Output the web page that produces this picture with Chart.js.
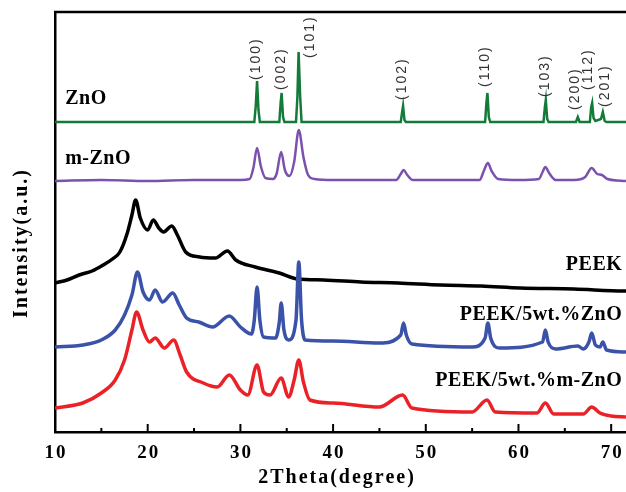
<!DOCTYPE html>
<html>
<head>
    <title>XRD patterns</title>
    <script src="https://cdn.jsdelivr.net/npm/chart.js"></script>
    <style>
        html, body { margin: 0; padding: 0; background: #fff; }
    </style>
</head>
<body>
    <canvas id="xrdChart" width="626" height="492"></canvas>

    <script>
        // 2theta / intensity (a.u., curves already stacked)
        var znoPts = [
            [10,310],[31.5,310],[31.65,325],[31.8,351],[31.95,322],[32.1,310],
            [34.2,310],[34.35,330],[34.45,339],[34.6,315],[34.75,310],
            [36.0,310],[36.15,335],[36.28,380],[36.45,335],[36.6,310],
            [47.3,310],[47.45,320],[47.55,326],[47.7,312],[47.85,310],
            [56.4,310],[56.55,330],[56.65,339],[56.8,315],[56.95,310],
            [62.7,310],[62.85,325],[62.95,332],[63.1,313],[63.25,310],
            [66.2,310],[66.4,315],[66.6,310],
            [67.7,310],[67.85,325],[67.95,329],[68.1,314],[68.3,311],
            [68.9,313],[69.1,320],[69.3,311],[69.5,310],[71.6,310]
        ];
        var mznoPts = [
            [10,251],[15,252],[20,251],[25,252],[30,252],[31.0,253],[31.4,264],[31.8,284],[32.2,266],[32.7,254],
            [33.5,253],[33.9,258],[34.4,280],[34.8,262],[35.3,256],[35.8,270],[36.3,302],[36.8,275],
            [37.3,257],[38,253],[40,252],[44,252],[46.8,252],[47.3,258],[47.6,262],[48,257],[48.6,252],
            [52,252],[55.8,252],[56.3,262],[56.7,269],[57.1,261],[57.8,253],[60,252],[62.2,253],[62.6,260],
            [62.9,265],[63.3,259],[64,252],[66,252],[67.2,255],[67.9,264],[68.5,258],[69.0,257],
            [69.6,253],[71.6,251]
        ];
        var peekPts = [
            [10,149],[11.3,152],[12.6,157],[14,161],[15.2,167],[16.2,173],[17.0,180],[17.8,199],[18.3,217],
            [18.7,232],[19.2,214],[20.0,202],[20.6,212],[21.2,204],[21.7,200],[22.6,206],
            [23.2,197],[24.1,180],[25.6,175],[27.3,174],[28.6,181],[29.5,172],[31.6,165],
            [34.2,159],[36.2,153],[39,152],[43,150],[47,149],[51.6,147],[56,146],[60.2,144],[66,143],
            [71.4,141],[71.6,141]
        ];
        var peekZnoPts = [
            [10,85],[13,87],[15,92],[16.5,102],[17.5,117],[18.3,137],[18.9,160],[19.5,140],
            [20.2,132],[20.8,142],[21.6,130],[22.7,139],[23.4,127],[24.2,114],[25.5,110],
            [27.0,105],[28.8,116],[30.0,105],[31.2,98],[31.5,112],[31.8,145],[32.1,112],
            [32.5,95],[33.8,94],[34.2,110],[34.4,129],[34.7,102],[35.2,92],[36.0,112],
            [36.3,170],[36.6,112],[37.0,92],[40,91],[45,89],[47.3,97],[47.6,109],[47.9,97],
            [48.5,88],[55,85],[56.4,94],[56.7,109],[57.0,94],[58,84],[62.6,90],[62.9,102],
            [63.2,90],[64,83],[66.4,86],[67.0,83],[67.6,90],[67.9,99],[68.3,87],[68.8,85],
            [69.1,90],[69.5,82],[71.6,80]
        ];
        var peekMznoPts = [
            [10,24],[13,29],[15,39],[16.5,52],[17.5,72],[18.3,102],[18.8,120],[19.5,102],
            [20.2,90],[20.8,94],[21.8,84],[22.8,92],[23.5,77],[24.2,60],[26,49],[27.5,45],
            [28.8,57],[30,42],[30.8,37],[31.8,67],[32.5,40],[33.2,37],[34.4,54],[35.2,35],
            [35.8,52],[36.3,72],[36.8,50],[37.5,32],[40,29],[45,25],[47.5,37],[48.5,24],
            [55,20],[56.6,32],[57.5,20],[62,19],[62.9,29],[63.8,18],[67,18],[67.9,25],
            [68.8,19],[70,16],[71.6,15]
        ];

        var seriesNames = ['ZnO', 'm-ZnO', 'PEEK', 'PEEK/5wt.%ZnO', 'PEEK/5wt.%m-ZnO'];
        var seriesColors = ['#137a3a', '#7a52ad', '#000000', '#3a52a8', '#ea2228'];
        // where each name sits (2theta, intensity) and how it is aligned
        var nameX = [11.1, 11.1, 71.2, 71.2, 71.2];
        var nameY = [328, 268, 162, 112, 46];
        var nameAlign = ['left', 'left', 'right', 'right', 'right'];

        var hklLabels = ['(100)', '(002)', '(101)', '(102)', '(110)', '(103)', '(200)', '(112)', '(201)'];
        var hklX = [31.7, 34.35, 37.5, 47.5, 56.4, 62.9, 66.1, 67.5, 69.3];
        var hklY = [352, 342, 374, 332, 345, 335, 322, 342, 325];

        var majorTicks = [10, 20, 30, 40, 50, 60, 70];
        var minorTicks = [15, 25, 35, 45, 55, 65];

        function toXY(arr) {
            return arr.map(function (p) { return { x: p[0], y: p[1] }; });
        }

        var decor = {
            id: 'decor',
            afterDraw: function (chart) {
                var ctx = chart.ctx, a = chart.chartArea;
                var xs = chart.scales.x, ys = chart.scales.y;
                ctx.save();
                ctx.strokeStyle = '#000';
                ctx.lineWidth = 2.5;
                ctx.beginPath();
                ctx.moveTo(a.left - 1, a.top);
                ctx.lineTo(a.right, a.top);
                ctx.stroke();

                // inward ticks
                ctx.lineWidth = 2;
                majorTicks.forEach(function (v) {
                    var px = xs.getPixelForValue(v);
                    ctx.beginPath(); ctx.moveTo(px, a.bottom); ctx.lineTo(px, a.bottom - 8); ctx.stroke();
                });
                minorTicks.forEach(function (v) {
                    var px = xs.getPixelForValue(v);
                    ctx.beginPath(); ctx.moveTo(px, a.bottom); ctx.lineTo(px, a.bottom - 4); ctx.stroke();
                });

                // tick labels
                ctx.fillStyle = '#000';
                ctx.font = 'bold 19px "Liberation Serif"';
                ctx.letterSpacing = '2px';
                ctx.textAlign = 'center';
                ctx.textBaseline = 'middle';
                majorTicks.forEach(function (v) {
                    ctx.fillText(String(v), xs.getPixelForValue(v) + 1, 453);
                });

                // axis titles
                ctx.font = 'bold 20px "Liberation Serif"';
                ctx.letterSpacing = '2px';
                ctx.fillText('2Theta(degree)', 337, 478);
                ctx.save();
                ctx.translate(22, 243);
                ctx.rotate(-Math.PI / 2);
                ctx.fillText('Intensity(a.u.)', 0, 0);
                ctx.restore();

                // series names
                ctx.font = 'bold 20px "Liberation Serif"';
                ctx.letterSpacing = '0.5px';
                ctx.textBaseline = 'alphabetic';
                seriesNames.forEach(function (n, i) {
                    ctx.textAlign = nameAlign[i];
                    ctx.fillText(n, xs.getPixelForValue(nameX[i]), ys.getPixelForValue(nameY[i]));
                });

                // hkl labels above the ZnO peaks
                ctx.font = '14px "Liberation Sans"';
                ctx.letterSpacing = '2px';
                ctx.fillStyle = '#333';
                ctx.textAlign = 'left';
                ctx.textBaseline = 'middle';
                hklLabels.forEach(function (t, i) {
                    ctx.save();
                    ctx.translate(xs.getPixelForValue(hklX[i]), ys.getPixelForValue(hklY[i]));
                    ctx.rotate(-Math.PI / 2);
                    ctx.fillText(t, 0, 0);
                    ctx.restore();
                });
                ctx.restore();
            }
        };

        var ctx = document.getElementById('xrdChart').getContext('2d');
        var allPts = [peekZnoPts, peekMznoPts, peekPts, mznoPts, znoPts];
        var colorIdx = [3, 4, 2, 1, 0];
        var myChart = new Chart(ctx, {
            type: 'scatter',
            data: {
                datasets: allPts.map(function (pts, k) {
                    var ci = colorIdx[k];
                    return {
                        label: seriesNames[ci],
                        data: toXY(pts),
                        showLine: true,
                        borderColor: seriesColors[ci],
                        borderWidth: ci < 2 ? 2.5 : 3.5,
                        pointRadius: 0,
                        tension: 0,
                        cubicInterpolationMode: ci === 0 ? 'default' : 'monotone'
                    };
                })
            },
            options: {
                responsive: false,
                animation: false,
                layout: { padding: { top: 12, right: 0, left: 0, bottom: 0 } },
                plugins: { legend: { display: false }, tooltip: { enabled: false } },
                scales: {
                    x: {
                        type: 'linear',
                        min: 10,
                        max: 71.6,
                        grid: { display: false },
                        border: { display: true, color: '#000', width: 2.5 },
                        ticks: { display: false },
                        afterFit: function (s) { s.height = 60; }
                    },
                    y: {
                        min: 0,
                        max: 420,
                        grid: { display: false },
                        border: { display: true, color: '#000', width: 2.5 },
                        ticks: { display: false },
                        afterFit: function (s) { s.width = 55; }
                    }
                }
            },
            plugins: [decor]
        });
    </script>
</body>
</html>
